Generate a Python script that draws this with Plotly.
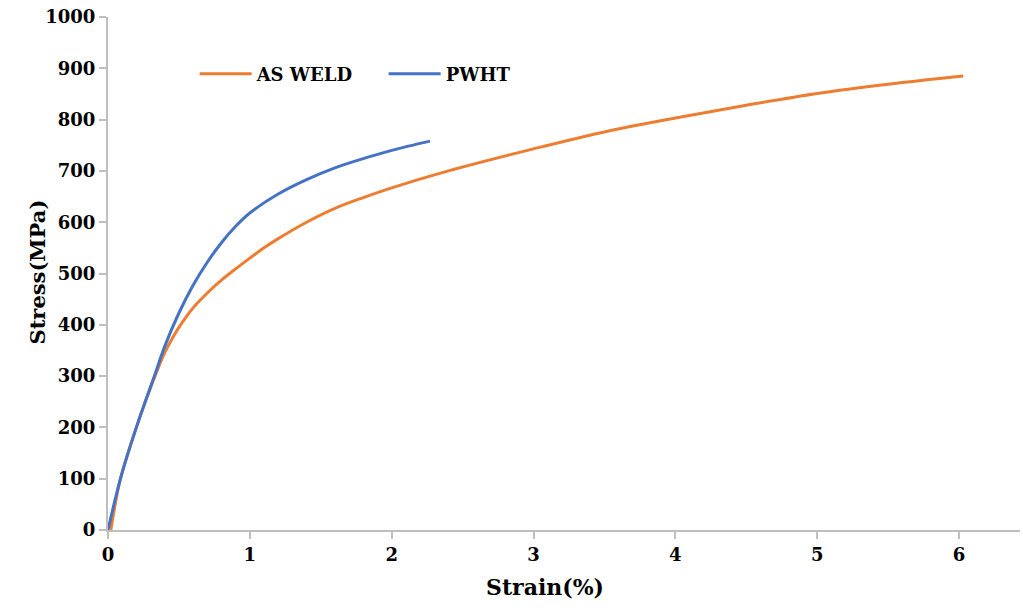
import plotly.graph_objects as go

# Tensile stress-strain curves
as_weld_strain = [0.02, 0.088, 0.2, 0.26, 0.327, 0.36, 0.4, 0.45, 0.5, 0.55, 0.6, 0.7, 0.8, 0.9,
                  1.0, 1.1, 1.2, 1.4, 1.6, 1.8, 2.0, 2.4, 3.0, 3.5, 4.0, 4.5, 5.0, 5.5, 6.03]
as_weld_stress = [0, 100, 200, 248, 297, 320, 346, 372, 395, 415, 433, 462, 487, 509,
                  530, 550, 568, 600, 627, 648, 667, 700, 743, 776, 803, 828, 851, 869, 885]

pwht_strain = [0.0, 0.088, 0.2, 0.327, 0.4, 0.5, 0.6, 0.7, 0.8, 0.9, 1.0, 1.2, 1.4,
               1.6, 1.8, 2.0, 2.27]
pwht_stress = [0, 100, 200, 300, 358, 423, 477, 522, 560, 592, 618, 655, 683,
               706, 724, 740, 758]

x_ticks = [0, 1, 2, 3, 4, 5, 6]
y_ticks = [0, 100, 200, 300, 400, 500, 600, 700, 800, 900, 1000]

FONT = "DejaVu Serif"
ORANGE = "#ED7D31"
BLUE = "#4472C4"
AXIS_GREY = "#BFBFBF"

fig = go.Figure()
fig.add_trace(go.Scatter(x=as_weld_strain, y=as_weld_stress, mode="lines",
                         name="AS WELD", line=dict(color=ORANGE, width=3, shape="spline", smoothing=1)))
fig.add_trace(go.Scatter(x=pwht_strain, y=pwht_stress, mode="lines",
                         name="PWHT", line=dict(color=BLUE, width=3, shape="spline", smoothing=1)))

axis_common = dict(
    showgrid=False, zeroline=False, showline=True, linecolor=AXIS_GREY, linewidth=2,
    ticks="outside", ticklen=7, tickwidth=2, tickcolor=AXIS_GREY,
    tickfont=dict(family=FONT, size=18, color="black", weight="bold"),
)

L, R, T, B = 108, 3, 17, 85
W, H = 1023, 615
plot_w = W - L - R
plot_h = H - T - B


def to_paper(px, py):
    return (px - L) / plot_w, (H - B - py) / plot_h


xt_x, xt_y = to_paper(545, 602)
yt_x, yt_y = to_paper(22, 272)

fig.update_layout(
    width=W, height=H,
    margin=dict(l=L, r=R, t=T, b=B),
    paper_bgcolor="white", plot_bgcolor="white",
    xaxis=dict(range=[0, 6.43], tickvals=x_ticks, ticktext=[str(v) for v in x_ticks], **axis_common),
    yaxis=dict(range=[0, 1000], tickvals=y_ticks, ticktext=[str(v) for v in y_ticks], **axis_common),
    showlegend=True,
    legend=dict(orientation="h", x=0.095, y=0.889, xanchor="left", yanchor="middle",
                font=dict(family=FONT, size=18, color="black", weight="bold"),
                itemwidth=52, entrywidth=122, entrywidthmode="pixels",
                bgcolor="rgba(0,0,0,0)", tracegroupgap=0),
    annotations=[
        dict(text="Strain(%)", x=xt_x, y=xt_y, xref="paper", yref="paper", showarrow=False,
             font=dict(family=FONT, size=22, color="black", weight="bold")),
        dict(text="Stress(MPa)", x=yt_x, y=yt_y, xref="paper", yref="paper", showarrow=False,
             textangle=-90, font=dict(family=FONT, size=21, color="black", weight="bold")),
    ],
)

fig.write_html("out.html")
